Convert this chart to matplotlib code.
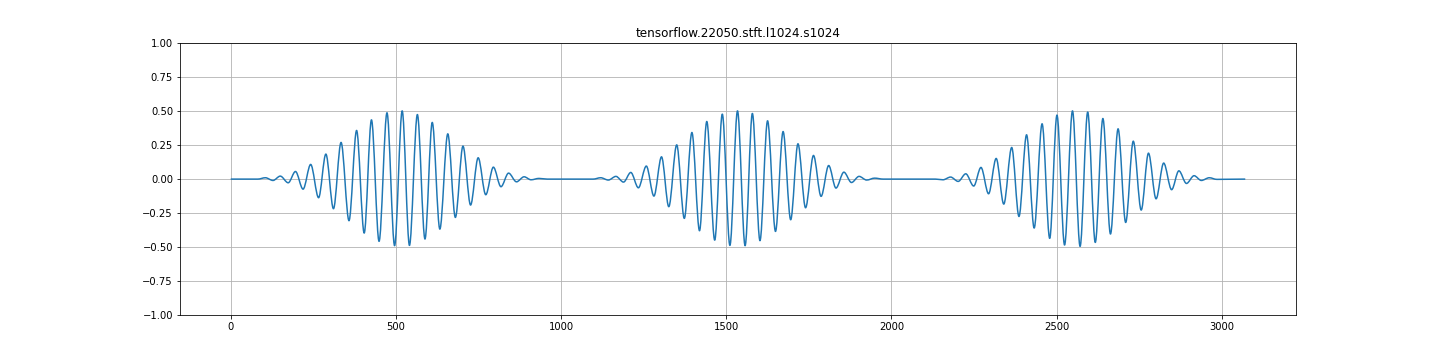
import numpy as np
import matplotlib
matplotlib.use("Agg")
import matplotlib.pyplot as plt
from matplotlib.path import Path
from matplotlib.patches import PathPatch

title = "tensorflow.22050.stft.l1024.s1024"

# Extrema (sample index, amplitude), per burst
burst1_x = [0, 82, 105, 128, 150, 174, 196, 219, 242, 266, 288, 311, 334, 358, 381, 404,
            426, 449, 473, 496, 519, 541, 565, 588, 610, 633, 657, 680, 703, 726, 749,
            772, 795, 818, 841, 865, 888, 909, 933, 958]
burst1_y = [0, 0, 0.010, -0.010, 0.022, -0.027, 0.056, -0.074, 0.108, -0.137, 0.184,
            -0.218, 0.270, -0.306, 0.358, -0.397, 0.436, -0.458, 0.488, -0.490, 0.502,
            -0.488, 0.475, -0.441, 0.417, -0.368, 0.333, -0.282, 0.243, -0.191, 0.157,
            -0.115, 0.088, -0.056, 0.044, -0.020, 0.017, -0.005, 0.005, 0]

burst2_x = [1097, 1120, 1143, 1166, 1189, 1211, 1234, 1258, 1281, 1304, 1326, 1350, 1373,
            1396, 1419, 1441, 1465, 1488, 1511, 1534, 1557, 1579, 1602, 1625, 1649, 1672,
            1695, 1717, 1740, 1764, 1787, 1810, 1832, 1856, 1879, 1902, 1925, 1949, 1975]
burst2_y = [0, 0.010, -0.007, 0.020, -0.022, 0.049, -0.064, 0.096, -0.125, 0.164, -0.203,
            0.252, -0.289, 0.343, -0.380, 0.424, -0.449, 0.478, -0.488, 0.502, -0.490,
            0.483, -0.453, 0.429, -0.385, 0.350, -0.299, 0.260, -0.211, 0.174, -0.127,
            0.100, -0.066, 0.051, -0.025, 0.020, -0.007, 0.007, 0]

burst3_x = [2133, 2156, 2179, 2202, 2225, 2249, 2271, 2294, 2317, 2340, 2364, 2386, 2409,
            2432, 2456, 2479, 2501, 2524, 2548, 2571, 2594, 2617, 2640, 2663, 2686, 2709,
            2732, 2756, 2778, 2801, 2824, 2848, 2870, 2893, 2916, 2938, 2962, 2985, 3071]
burst3_y = [0, -0.005, 0.015, -0.017, 0.039, -0.051, 0.086, -0.108, 0.152, -0.184, 0.233,
            -0.275, 0.326, -0.360, 0.407, -0.436, 0.471, -0.485, 0.502, -0.495, 0.493,
            -0.466, 0.446, -0.404, 0.370, -0.319, 0.279, -0.228, 0.191, -0.145, 0.118,
            -0.078, 0.061, -0.032, 0.025, -0.010, 0.010, -0.002, 0]

x_ticks = [0, 500, 1000, 1500, 2000, 2500, 3000]
y_ticks = [-1.0, -0.75, -0.5, -0.25, 0.0, 0.25, 0.5, 0.75, 1.0]

x = np.array(burst1_x + burst2_x + burst3_x, dtype=float)
y = np.array(burst1_y + burst2_y + burst3_y, dtype=float)

# Smooth curve through the extrema using cubic Bezier segments (horizontal tangents)
verts = [(x[0], y[0])]
codes = [Path.MOVETO]
for i in range(len(x) - 1):
    dx = x[i + 1] - x[i]
    verts += [(x[i] + dx / 3, y[i]), (x[i + 1] - dx / 3, y[i + 1]), (x[i + 1], y[i + 1])]
    codes += [Path.CURVE4] * 3

fig = plt.figure(figsize=(20, 5), dpi=72)
ax = fig.add_subplot(111)
fig.subplots_adjust(left=0.125, right=0.9, top=0.88, bottom=0.125)

patch = PathPatch(Path(verts, codes), fill=False, edgecolor="#1f77b4", lw=1.5,
                  joinstyle="round", capstyle="butt", zorder=2)
ax.add_patch(patch)
ax.update_datalim(np.column_stack([x, y]))
ax.autoscale_view()
ax.set_ylim(-1, 1)
ax.set_xticks(x_ticks)
ax.set_yticks(y_ticks)
ax.grid(True)
ax.set_title(title)

fig.savefig("out.png", dpi=72)
